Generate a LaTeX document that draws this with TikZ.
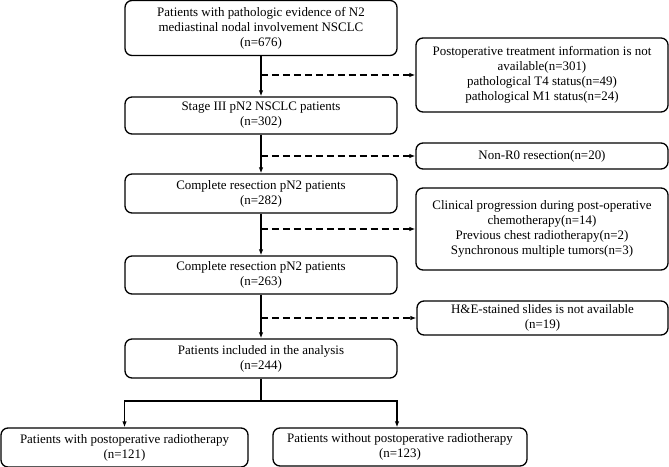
\documentclass[tikz,border=0pt]{standalone}
\usepackage{fontspec}
\setmainfont{Liberation Serif}
\usetikzlibrary{arrows.meta}
\begin{document}
\begin{tikzpicture}[x=1bp,y=-1bp,
  box/.style={draw,line width=1.3pt,rounded corners=7pt,align=center,inner sep=1pt,
    font=\fontsize{13}{15.2}\selectfont},
  solidarrow/.style={line width=1.4pt,-{Latex[length=6pt,width=4.5pt]}},
  dasharrow/.style={line width=1.2pt,dash pattern=on 7pt off 4pt,-{Latex[length=6pt,width=4.5pt]}},
  plain/.style={line width=1.4pt}]
\useasboundingbox (0,0) rectangle (669,467);
\node[box,minimum width=272bp,minimum height=55bp] (b1) at (261,28)
  {Patients with pathologic evidence of N2\\mediastinal nodal involvement NSCLC\\(n=676)};
\node[box,minimum width=272bp,minimum height=37bp] (b2) at (261,115.5)
  {Stage III pN2 NSCLC patients\\(n=302)};
\node[box,minimum width=272bp,minimum height=39bp] (b3) at (261,193.5)
  {Complete resection pN2 patients\\(n=282)};
\node[box,minimum width=272bp,minimum height=38bp] (b4) at (261,275)
  {Complete resection pN2 patients\\(n=263)};
\node[box,minimum width=272bp,minimum height=39bp] (b5) at (261,358.5)
  {Patients included in the analysis\\(n=244)};
\node[box,minimum width=252bp,minimum height=74bp] (r1) at (542,75)
  {Postoperative treatment information is not\\available(n=301)\\pathological T4 status(n=49)\\pathological M1 status(n=24)};
\node[box,minimum width=252bp,minimum height=26bp] (r2) at (542,156)
  {Non-R0 resection(n=20)};
\node[box,minimum width=252bp,minimum height=82bp] (r3) at (542,229)
  {Clinical progression during post-operative\\chemotherapy(n=14)\\Previous chest radiotherapy(n=2)\\Synchronous multiple tumors(n=3)};
\node[box,minimum width=251bp,minimum height=34bp] (r4) at (542.5,318)
  {H\&E-stained slides is not available\\(n=19)};
\node[box,minimum width=247bp,minimum height=39bp] (bl) at (124.5,447.5)
  {Patients with postoperative radiotherapy\\(n=121)};
\node[box,minimum width=254bp,minimum height=38bp] (br) at (400,447)
  {Patients without postoperative radiotherapy\\(n=123)};
\coordinate (split) at (261,401);
\draw[solidarrow] (b1) -- (b2);
\draw[solidarrow] (b2) -- (b3);
\draw[solidarrow] (b3) -- (b4);
\draw[solidarrow] (b4) -- (b5);
\draw[dasharrow] (b1.south |- r1.west) -- (r1.west);
\draw[dasharrow] (b2.south |- r2.west) -- (r2.west);
\draw[dasharrow] (b3.south |- r3.west) -- (r3.west);
\draw[dasharrow] (b4.south |- r4.west) -- (r4.west);
\draw[plain] (b5.south) -- (split);
\draw[solidarrow] (split) -| (bl.north);
\draw[solidarrow] (split) -| ([xshift=-3bp]br.north);
\end{tikzpicture}
\end{document}
